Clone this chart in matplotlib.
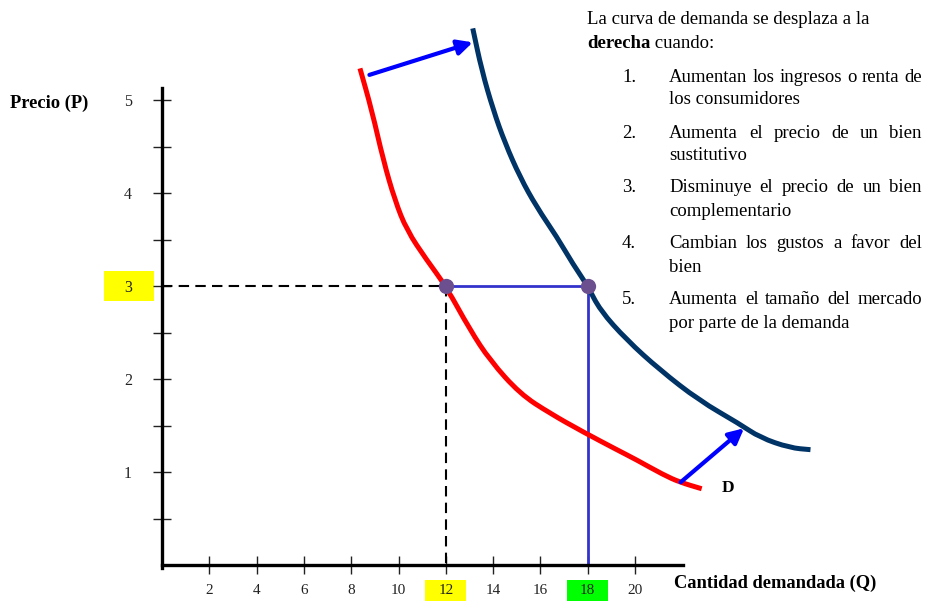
import matplotlib
matplotlib.use('Agg')
import matplotlib.pyplot as plt
from matplotlib.patches import Rectangle, PathPatch
from matplotlib.path import Path

plt.rcParams['font.family'] = ['Liberation Serif', 'DejaVu Serif']

# ---------------- data ----------------
red_q = [8.37, 8.87, 9.36, 9.85, 10.35, 11.19, 12.0, 13.02, 13.87, 15.14, 16.41, 17.81, 19.23, 20.07, 21.20, 21.90, 22.82]
red_p = [5.34, 4.89, 4.35, 3.92, 3.60, 3.28, 3.0, 2.53, 2.20, 1.84, 1.63, 1.43, 1.24, 1.13, 0.97, 0.89, 0.82]
navy_q = [13.14, 13.52, 14.01, 14.50, 15.14, 15.84, 16.69, 17.39, 18.0, 18.52, 19.65, 21.04, 22.71, 24.40, 25.29, 26.55, 27.42]
navy_p = [5.77, 5.32, 4.89, 4.54, 4.17, 3.85, 3.53, 3.23, 3.0, 2.74, 2.42, 2.10, 1.77, 1.52, 1.37, 1.26, 1.24]
eq_q = [12, 18]
eq_p = 3
arrow_top = [(8.77, 5.27), (13.14, 5.62)]
arrow_bottom = [(21.93, 0.89), (24.61, 1.47)]
x_ticks = [2, 4, 6, 8, 10, 12, 14, 16, 18, 20]
y_ticks = [1, 2, 3, 4, 5]
y_minor = [0.5, 1.5, 2.5, 3.5, 4.5]
x_highlight = {12: '#ffff00', 18: '#00ff00'}
y_highlight = {3: '#ffff00'}
y_label = 'Precio (P)'
x_label = 'Cantidad demandada (Q)'
curve_label = 'D'
intro_1 = 'La curva de demanda se desplaza a la'
intro_bold = 'derecha'
intro_rest = ' cuando:'
items_first = ['Aumentan los ingresos o renta de',
               'Aumenta el precio de un bien',
               'Disminuye el precio de un bien',
               'Cambian los gustos a favor del',
               'Aumenta el tamaño del mercado']
items_second = ['los consumidores', 'sustitutivo', 'complementario', 'bien',
                'por parte de la demanda']

# ---------------- figure ----------------
W, H = 943, 601
fig = plt.figure(figsize=(W / 100, H / 100), dpi=100)
ax = fig.add_axes([0, 0, 1, 1])
ax.patch.set_visible(False)
ax.set_xlim(-162 / 23.65, 781 / 23.65)
ax.set_ylim(-36 / 93, 565 / 93)

for s in ['top', 'right']:
    ax.spines[s].set_visible(False)
ax.spines['left'].set_position(('data', 0))
ax.spines['bottom'].set_position(('data', 0))
ax.spines['left'].set_bounds(-0.03, 5.13)
ax.spines['bottom'].set_bounds(0, 22.03)
for s in ['left', 'bottom']:
    ax.spines[s].set_linewidth(2.4)
    ax.spines[s].set_zorder(5)

ax.set_xticks(x_ticks)
ax.set_xticklabels([str(v) for v in x_ticks])
ax.set_yticks(y_ticks)
ax.set_yticklabels([str(v) for v in y_ticks])
ax.set_yticks(y_minor, minor=True)
ax.tick_params(which='both', direction='inout', length=13, width=1.0, color='#222222')
ax.tick_params(axis='y', which='both', pad=15, labelsize=11.5, labelcolor='#222222')
ax.tick_params(axis='x', pad=7, labelsize=11, labelcolor='#222222')

# highlight boxes behind tick labels
for v, c in x_highlight.items():
    ax.add_patch(Rectangle((v - 0.87, -0.40), 1.74, 0.24, facecolor=c, edgecolor='none',
                           clip_on=False, zorder=0))
for v, c in y_highlight.items():
    ax.add_patch(Rectangle((-2.45, v - 0.16), 2.11, 0.32, facecolor=c, edgecolor='none',
                           clip_on=False, zorder=0))

# guide lines
ax.plot([0, eq_q[0]], [eq_p, eq_p], color='black', lw=1.5, ls=(0, (5, 3)), zorder=2)
ax.plot([eq_q[0], eq_q[0]], [eq_p, 0], color='black', lw=1.5, ls=(0, (5, 3)), zorder=2)
ax.plot([eq_q[0], eq_q[1]], [eq_p, eq_p], color='#3333cc', lw=2.0, zorder=2)
ax.plot([eq_q[1], eq_q[1]], [eq_p, 0], color='#3333cc', lw=2.0, zorder=2)


def smooth_path(xs, ys):
    """Quadratic-Bezier path through the midpoints, using the read points as controls."""
    pts = list(zip(xs, ys))
    verts = [pts[0]]
    codes = [Path.MOVETO]
    mids = [((pts[i][0] + pts[i + 1][0]) / 2, (pts[i][1] + pts[i + 1][1]) / 2)
            for i in range(len(pts) - 1)]
    verts.append(mids[0]); codes.append(Path.LINETO)
    for i in range(1, len(pts) - 1):
        verts += [pts[i], mids[i]]
        codes += [Path.CURVE3, Path.CURVE3]
    verts.append(pts[-1]); codes.append(Path.LINETO)
    return Path(verts, codes)

for xs, ys, col in [(red_q, red_p, '#ff0000'), (navy_q, navy_p, '#003366')]:
    ax.add_patch(PathPatch(smooth_path(xs, ys), facecolor='none', edgecolor=col,
                           lw=3.6, capstyle='butt', joinstyle='round', zorder=3))

# equilibrium dots
ax.plot(eq_q, [eq_p, eq_p], 'o', color='#6b4f8f', markersize=11, markeredgewidth=0, zorder=6)

# shift arrows
for (s, e) in [arrow_top, arrow_bottom]:
    ax.annotate('', xy=e, xytext=s,
                arrowprops=dict(arrowstyle='-|>,head_length=0.6,head_width=0.3',
                                color='#0000ff', lw=3, mutation_scale=15,
                                shrinkA=0, shrinkB=0), zorder=4)

def fx(px):
    return px / W

def fy(py):
    return 1 - py / H

fig.text(fx(10), fy(103), y_label, weight='bold', size=13.3, ha='left', va='center')
fig.text(fx(674), fy(583), x_label, weight='bold', size=13.3, ha='left', va='center')
fig.text(fx(728), fy(488), curve_label, weight='bold', size=12.5, ha='center', va='center')

# right text block
TS = 13.5
fig.canvas.draw()
r = fig.canvas.get_renderer()

fig.text(fx(587), fy(20), intro_1, size=TS, ha='left', va='center')
tb = fig.text(fx(587), fy(43), intro_bold, size=TS, weight='bold', ha='left', va='center')
wb = tb.get_window_extent(r).width
fig.text(fx(587 + wb), fy(43), intro_rest, size=TS, ha='left', va='center')


def put_justified(line, x0, x1, y):
    words = line.split(' ')
    texts = [fig.text(0, 0, w, size=TS, ha='left', va='center') for w in words]
    widths = [t.get_window_extent(r).width for t in texts]
    gap = (x1 - x0 - sum(widths)) / (len(words) - 1)
    x = x0
    for t, w in zip(texts, widths):
        t.set_position((fx(x), fy(y)))
        x += w + gap

item_y = [77, 133, 188, 244, 300]
for i, (a, b) in enumerate(zip(items_first, items_second)):
    y = item_y[i]
    fig.text(fx(622), fy(y), f'{i + 1}.', size=TS, ha='left', va='center')
    put_justified(a, 669, 922, y)
    fig.text(fx(669), fy(y + 23), b, size=TS, ha='left', va='center')

fig.savefig('out.png', dpi=100, facecolor='white')
